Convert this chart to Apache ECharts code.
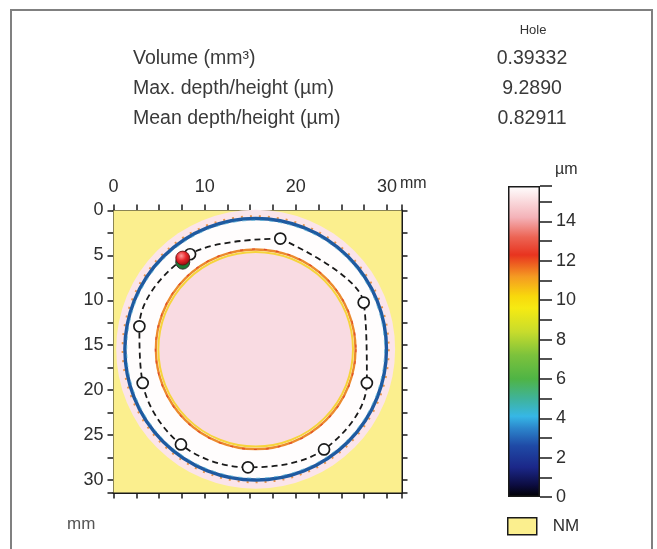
<!DOCTYPE html>
<html><head><meta charset="utf-8">
<script src="https://cdn.jsdelivr.net/npm/echarts@6/dist/echarts.min.js"></script>
<style>html,body{margin:0;padding:0;background:#fff}#c{width:657px;height:549px}</style>
</head><body><div id="c"></div>
<script>
// ---- data ----
const statHeader = 'Hole';
const statLabels = ['Volume (mm³)', 'Max. depth/height (µm)', 'Mean depth/height (µm)'];
const statValues = ['0.39332', '9.2890', '0.82911'];

const xTickLabels = [0, 10, 20, 30];
const yTickLabels = [0, 5, 10, 15, 20, 25, 30];
const xRange = [0, 31.6];
const yRange = [0, 31.4];

const specimenCentre = [15.6, 15.45];
const outerDiscRadius = 15.3;
const outerRingRadius = 14.35;
const whiteZoneRadius = 14.2;
const innerRingRadius = 10.9;
const innerDiscRadius = 10.7;

const pathX = [18.3, 8.4, 2.84, 3.2, 7.4, 14.75, 23.1, 27.8, 27.45];
const pathY = [3.13, 4.87, 12.9, 19.2, 26.05, 28.6, 26.6, 19.2, 10.25];
const markerRed = [7.6, 5.3];
const markerGreen = [7.6, 5.75];

const colorbarRange = [0, 15.8];
const colorbarLabels = [0, 2, 4, 6, 8, 10, 12, 14];

// ---- chart ----
const FONT = "'Liberation Sans', Arial, sans-serif";
const NARROW = "'Liberation Sans Narrow', 'Arial Narrow', 'Liberation Sans', Arial, sans-serif";
const TXT = '#3a3a3a';
const AX = '#2e2e2e';

function disc(fill, stroke, lw, dash) {
  return function (params, api) {
    const c = api.coord([api.value(0), api.value(1)]);
    const r = api.size([api.value(2), 0])[0];
    return { type: 'circle', shape: { cx: c[0], cy: c[1], r: r },
      style: { fill: fill, stroke: stroke, lineWidth: lw || 0, lineDash: dash || null } };
  };
}
function ringSeries(name, r, fill, stroke, lw, dash, z) {
  return { type: 'custom', name: name, xAxisIndex: 0, yAxisIndex: 0, z: z, silent: true,
    renderItem: disc(fill, stroke, lw, dash),
    data: [[specimenCentre[0], specimenCentre[1], r]] };
}

const pathData = pathX.map((x, i) => [x, pathY[i]]);
pathData.push([pathX[0], pathY[0]]);

const axisCommon = {
  type: 'value', gridIndex: 0, interval: 2.5,
  axisLine: { show: true, onZero: false, lineStyle: { color: '#1a1a1a', width: 2 } },
  axisTick: { show: true, inside: false, length: 6, lineStyle: { color: '#1a1a1a', width: 1.5 } },
  splitLine: { show: false }
};

const option = {
  animation: false,
  backgroundColor: '#ffffff',
  legend: {
    data: [{ name: 'NM', icon: 'rect' }],
    left: 502, top: 512, itemWidth: 29, itemHeight: 17, itemGap: 10,
    textStyle: { fontFamily: NARROW, fontSize: 17, color: AX, padding: [0, 0, 0, 11] },
    itemStyle: { borderColor: '#1a1a1a', borderWidth: 1.5 },
    selectedMode: false
  },
  grid: [
    { left: 113.5, top: 210.5, width: 288, height: 282 },
    { left: 508, top: 186, width: 32, height: 311 }
  ],
  xAxis: [
    Object.assign({}, axisCommon, { position: 'top', min: xRange[0], max: xRange[1],
      axisLabel: { margin: 14, fontFamily: NARROW, fontSize: 18, color: AX,
        formatter: v => xTickLabels.indexOf(Math.round(v * 100) / 100) >= 0 ? String(Math.round(v)) : '' } }),
    Object.assign({}, axisCommon, { position: 'bottom', min: xRange[0], max: xRange[1],
      axisLabel: { show: false } }),
    { type: 'category', gridIndex: 1, data: ['bar'], show: false }
  ],
  yAxis: [
    Object.assign({}, axisCommon, { position: 'left', inverse: true, min: yRange[0], max: yRange[1],
      axisLabel: { margin: 10, fontFamily: NARROW, fontSize: 18, color: AX,
        formatter: v => yTickLabels.indexOf(Math.round(v * 100) / 100) >= 0 ? String(Math.round(v)) : '' } }),
    Object.assign({}, axisCommon, { position: 'right', inverse: true, min: yRange[0], max: yRange[1],
      axisLabel: { show: false } }),
    { type: 'value', gridIndex: 1, position: 'right', min: colorbarRange[0], max: colorbarRange[1], interval: 1,
      axisLine: { show: false },
      axisTick: { show: true, inside: false, length: 12, lineStyle: { color: '#1a1a1a', width: 1.5 } },
      splitLine: { show: false },
      axisLabel: { margin: 16, fontFamily: NARROW, fontSize: 18, color: AX,
        formatter: v => colorbarLabels.indexOf(Math.round(v)) >= 0 && Math.abs(v - Math.round(v)) < 1e-6 ? String(Math.round(v)) : '' } }
  ],
  series: [
    { type: 'custom', name: 'NM', xAxisIndex: 0, yAxisIndex: 0, z: 1, silent: true,
      itemStyle: { color: '#fbef8e' },
      renderItem: function (params, api) {
        const a = api.coord([api.value(0), api.value(1)]);
        const b = api.coord([api.value(2), api.value(3)]);
        return { type: 'rect', shape: { x: a[0], y: a[1], width: b[0] - a[0], height: b[1] - a[1] },
          style: { fill: '#fbef8e' } };
      },
      data: [[xRange[0], yRange[0], xRange[1], yRange[1]]] },
    ringSeries('outerDisc', outerDiscRadius, '#fbe4ea', null, 0, null, 2),
    ringSeries('outerSpeckle', outerRingRadius + 0.25, 'none', '#e8934a', 2, [2, 7], 3),
    ringSeries('whiteZone', whiteZoneRadius, '#fffdfd', null, 0, null, 3),
    ringSeries('outerRing', outerRingRadius, 'none', '#1f5aa0', 3.4, null, 4),
    ringSeries('outerRingCyan', outerRingRadius - 0.2, 'none', '#5ab4d8', 0.8, [4, 5], 4),
    ringSeries('innerDisc', innerDiscRadius, '#f9dbe2', null, 0, null, 4),
    ringSeries('innerRingOrange', innerRingRadius + 0.05, 'none', '#ec8a2e', 2.4, null, 5),
    ringSeries('innerRingYellow', innerRingRadius - 0.22, 'none', '#f6d43c', 2, null, 5),
    ringSeries('innerRingRed', innerRingRadius + 0.1, 'none', '#e04a2a', 1.2, [3, 9], 5),
    { type: 'line', name: 'path', xAxisIndex: 0, yAxisIndex: 0, z: 6, silent: true,
      data: pathData, smooth: 0.35, showSymbol: false,
      lineStyle: { color: '#1a1a1a', width: 1.8, type: [6, 4] } },
    { type: 'scatter', name: 'points', xAxisIndex: 0, yAxisIndex: 0, z: 7, silent: true,
      data: pathX.map((x, i) => [x, pathY[i]]), symbolSize: 11,
      itemStyle: { color: '#ffffff', borderColor: '#1a1a1a', borderWidth: 1.7, opacity: 1 } },
    { type: 'scatter', name: 'markerGreen', xAxisIndex: 0, yAxisIndex: 0, z: 8, silent: true,
      data: [markerGreen], symbolSize: 14,
      itemStyle: { color: '#1d7a34', borderColor: '#333', borderWidth: 1, opacity: 1 } },
    { type: 'scatter', name: 'markerRed', xAxisIndex: 0, yAxisIndex: 0, z: 9, silent: true,
      data: [markerRed], symbolSize: 14,
      itemStyle: { opacity: 1, borderColor: '#5a1010', borderWidth: 0.8,
        color: { type: 'radial', x: 0.4, y: 0.35, r: 0.65, colorStops: [
          { offset: 0, color: '#ff9a9a' }, { offset: 0.5, color: '#e8262a' }, { offset: 1, color: '#9a0c10' }] } } },
    { type: 'bar', name: 'colorbar', xAxisIndex: 2, yAxisIndex: 2, silent: true,
      data: [colorbarRange[1]], barWidth: '100%',
      itemStyle: { borderColor: '#1a1a1a', borderWidth: 1.5,
        color: { type: 'linear', x: 0, y: 1, x2: 0, y2: 0, colorStops: [
          { offset: 0 / 15.8, color: '#000000' },
          { offset: 0.6 / 15.8, color: '#0c0c40' },
          { offset: 1.5 / 15.8, color: '#1b2788' },
          { offset: 2.6 / 15.8, color: '#1f4aa6' },
          { offset: 3.5 / 15.8, color: '#2c86cc' },
          { offset: 4.1 / 15.8, color: '#36b7e6' },
          { offset: 5.0 / 15.8, color: '#3fb39a' },
          { offset: 6.0 / 15.8, color: '#4fb445' },
          { offset: 7.2 / 15.8, color: '#7cc23c' },
          { offset: 8.4 / 15.8, color: '#c8dc2c' },
          { offset: 9.6 / 15.8, color: '#f6ea12' },
          { offset: 10.2 / 15.8, color: '#f8d80c' },
          { offset: 11.2 / 15.8, color: '#f59a22' },
          { offset: 12.3 / 15.8, color: '#e8341f' },
          { offset: 13.2 / 15.8, color: '#ec6454' },
          { offset: 14.2 / 15.8, color: '#f4b2b8' },
          { offset: 15.8 / 15.8, color: '#ffffff' }] } } }
  ],
  graphic: [
    { type: 'polyline', z: 100, silent: true,
      shape: { points: [[11, 549], [11, 10], [652, 10], [652, 549]] },
      style: { stroke: '#808080', lineWidth: 2, fill: null } },
    { type: 'text', x: 533, y: 30, silent: true,
      style: { text: statHeader, fontFamily: FONT, fontSize: 13, fill: '#333', align: 'center', verticalAlign: 'middle' } },
    ...statLabels.map((t, i) => ({ type: 'text', x: 133, y: 59 + i * 30, silent: true,
      style: { text: t, fontFamily: FONT, fontSize: 19.5, fill: TXT, verticalAlign: 'middle' } })),
    ...statValues.map((t, i) => ({ type: 'text', x: 532, y: 59 + i * 30, silent: true,
      style: { text: t, fontFamily: FONT, fontSize: 19.5, fill: TXT, align: 'center', verticalAlign: 'middle' } })),
    { type: 'text', x: 400, y: 184, silent: true,
      style: { text: 'mm', fontFamily: NARROW, fontSize: 16, fill: AX, verticalAlign: 'middle' } },
    { type: 'text', x: 67, y: 524, silent: true,
      style: { text: 'mm', fontFamily: NARROW, fontSize: 17, fill: '#555', verticalAlign: 'middle' } },
    { type: 'text', x: 555, y: 170, silent: true,
      style: { text: 'µm', fontFamily: NARROW, fontSize: 16, fill: AX, verticalAlign: 'middle' } }
  ]
};

const chart = echarts.init(document.getElementById('c'), null, { renderer: 'canvas' });
chart.setOption(option);
</script>
</body></html>
